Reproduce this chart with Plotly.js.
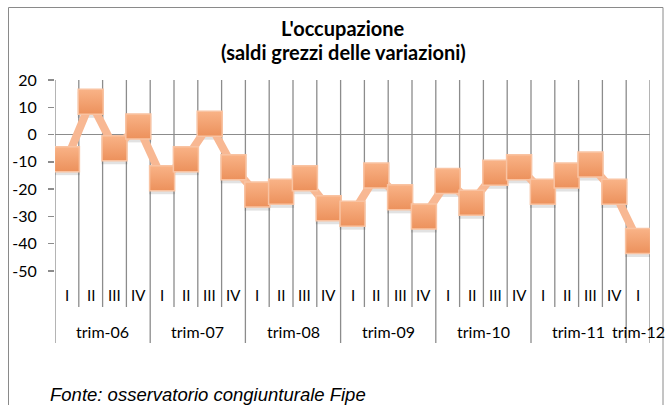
<!DOCTYPE html>
<html>
<head>
<meta charset="utf-8">
<script src="https://cdn.plot.ly/plotly-3.0.1.min.js"></script>
<style>
  html, body { margin: 0; padding: 0; background: #ffffff; }
  #chart { width: 670px; height: 405px; }
</style>
</head>
<body>
<div id="chart"></div>
<script>
// ---- data ----
const quarters = ['I','II','III','IV','I','II','III','IV','I','II','III','IV','I','II','III','IV','I','II','III','IV','I','II','III','IV','I'];
const years = ['trim-06','trim-07','trim-08','trim-09','trim-10','trim-11','trim-12'];
const yearSizes = [4, 4, 4, 4, 4, 4, 1];
const values = [-9, 12, -5, 3, -16, -9, 4, -12, -22, -21, -16, -27, -29, -15, -23, -30, -17, -25, -14, -12, -21, -15, -11, -21, -39];
const yTicks = [20, 10, 0, -10, -20, -30, -40, -50];
const titleLines = ["L'occupazione", '(saldi grezzi delle variazioni)'];
const source = 'Fonte: osservatorio congiunturale Fipe';

// ---- layout helpers ----
const W = 670, H = 405;
const SH = 3; // shadow offset in px
const M = { l: 55, r: 20, t: 80, b: 134 - SH };
const plotH = H - M.t - M.b;
const plotW = W - M.l - M.r;
const py = px => (H - M.b - px) / plotH;   // pixel y -> paper y
const pxX = px => (px - M.l) / plotW;      // pixel x -> paper x

const xIdx = values.map((v, i) => i + 1);
const grid = '#8c8c8c';

// group boundaries
const groupEdges = [0.5];
yearSizes.forEach(s => groupEdges.push(groupEdges[groupEdges.length - 1] + s));

const shapes = [];
for (let k = 0; k <= quarters.length; k++) {
  const b = k + 0.5;
  const isGroup = groupEdges.indexOf(b) >= 0;
  shapes.push({
    type: 'line', xref: 'x', yref: 'paper',
    x0: b, x1: b, y0: 1, y1: isGroup ? py(343) : py(307),
    line: { color: grid, width: 1.3 }, layer: 'below'
  });
}
// outer chart border
shapes.push({
  type: 'rect', xref: 'paper', yref: 'paper',
  x0: pxX(8.5), x1: pxX(663), y0: py(7.5), y1: py(430),
  line: { color: '#8a8a8a', width: 1 }, fillcolor: 'rgba(0,0,0,0)', layer: 'below'
});

const annotations = [];
titleLines.forEach((t, i) => {
  annotations.push({
    x: pxX(343), xref: 'paper', y: py(28 + i * 23.5), yref: 'paper',
    text: '<b>' + t + '</b>', showarrow: false, xanchor: 'center', yanchor: 'middle',
    font: { family: 'Lato, sans-serif', size: 20, color: '#000' }
  });
});
quarters.forEach((q, i) => {
  annotations.push({
    x: i + 1, xref: 'x', y: py(295), yref: 'paper',
    text: q, showarrow: false, xanchor: 'center', yanchor: 'middle',
    font: { family: 'Lato, sans-serif', size: 15, color: '#000' }
  });
});
years.forEach((yl, j) => {
  const c = (groupEdges[j] + groupEdges[j + 1]) / 2;
  annotations.push({
    x: c, xref: 'x', y: py(331), yref: 'paper',
    text: yl, showarrow: false, xanchor: 'center', yanchor: 'middle',
    font: { family: 'Lato, sans-serif', size: 16, color: '#000' }
  });
});
annotations.push({
  x: pxX(48), xref: 'paper', y: py(394), yref: 'paper',
  text: '<i>' + source + '</i>', showarrow: false, xanchor: 'left', yanchor: 'middle',
  font: { family: 'Liberation Sans, Arial, sans-serif', size: 18.5, color: '#000' }
});

// soft shadow below markers (same data, axis shifted a few px down)
const shadow = {
  x: xIdx, y: values, type: 'scatter', mode: 'markers', yaxis: 'y',
  marker: { symbol: 'square', size: 26, color: 'rgba(60,60,60,0.15)', line: { width: 0 } },
  hoverinfo: 'skip'
};
const trace = {
  x: xIdx, y: values, type: 'scatter', mode: 'lines+markers', yaxis: 'y2',
  line: { color: '#F8B893', width: 8 },
  marker: {
    symbol: 'square', size: 25, color: '#F9B387',
    gradient: { type: 'vertical', color: '#EC915C' },
    line: { color: '#F9C3A2', width: 1.5 }
  },
  hoverinfo: 'skip'
};

const layout = {
  width: W, height: H,
  margin: M,
  paper_bgcolor: '#ffffff', plot_bgcolor: 'rgba(0,0,0,0)',
  showlegend: false,
  xaxis: {
    range: [0.5, quarters.length + 0.5],
    showgrid: false, zeroline: false, showline: false,
    showticklabels: false, ticks: '', fixedrange: true
  },
  yaxis: {
    domain: [0, 1 - SH / plotH], range: [-50, 20],
    visible: false, showgrid: false, zeroline: false, fixedrange: true
  },
  yaxis2: {
    domain: [SH / plotH, 1], anchor: 'x',
    range: [-50, 20], tickvals: yTicks, ticktext: yTicks.map(String),
    showgrid: false, showline: false,
    zeroline: true, zerolinecolor: grid, zerolinewidth: 1.3,
    ticks: 'outside', ticklen: 6, tickcolor: grid, tickwidth: 1.3,
    ticklabelstandoff: 8,
    tickfont: { family: 'Lato, sans-serif', size: 16, color: '#000' },
    fixedrange: true
  },
  shapes: shapes,
  annotations: annotations
};

Plotly.newPlot('chart', [shadow, trace], layout, { staticPlot: true, displayModeBar: false });
</script>
</body>
</html>
